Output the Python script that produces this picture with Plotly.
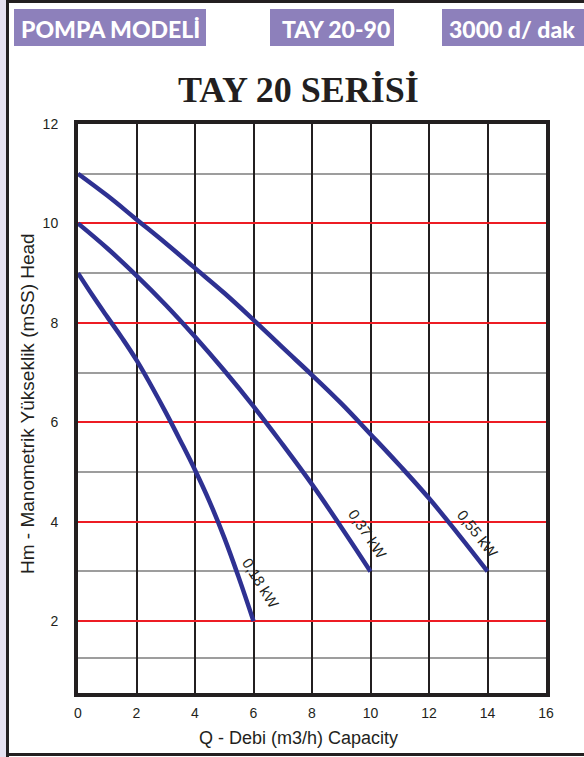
import plotly.graph_objects as go

# ---- data ----
q_018 = [0, 0.5, 1, 1.5, 2, 2.5, 3, 3.5, 4, 4.5, 5, 5.5, 6]
h_018 = [9.0, 8.55, 8.12, 7.7, 7.25, 6.74, 6.2, 5.63, 5.04, 4.4, 3.68, 2.87, 2.0]
q_037 = [0, 1, 2, 3, 4, 5, 6, 7, 8, 9, 10]
h_037 = [10.0, 9.5, 8.95, 8.36, 7.72, 7.04, 6.32, 5.55, 4.75, 3.89, 3.0]
q_055 = [0, 1, 2, 3, 4, 5, 6, 7, 8, 9, 10, 11, 12, 13, 14]
h_055 = [11.0, 10.56, 10.08, 9.6, 9.1, 8.6, 8.06, 7.5, 6.95, 6.38, 5.76, 5.13, 4.47, 3.75, 3.0]

curve_labels = ["0,18 kW", "0,37 kW", "0,55 kW"]
label_q = [6.26, 9.92, 13.69]
label_h = [2.76, 3.75, 3.75]
label_angle = [58, 56, 52]

x_ticks = [0, 2, 4, 6, 8, 10, 12, 14, 16]
y_ticks = [2, 4, 6, 8, 10, 12]
y_minor = [1.257, 3, 5, 7, 9, 11]

header_texts = ["POMPA MODELİ", "TAY 20-90", "3000 d/ dak"]
title_text = "TAY 20 SERİSİ"
x_title = "Q - Debi (m3/h) Capacity"
y_title = "Hm - Manometrik Yükseklik (mSS) Head"

# ---- layout geometry ----
W, H = 584, 757
ML, MR, MT, MB = 78, 38, 124, 64
PW, PH = W - ML - MR, H - MT - MB


def px(x):
    return (x - ML) / PW


def py(y):
    return (H - MB - y) / PH


CURVE = "#2e3192"
PURPLE = "#8d80bb"

fig = go.Figure()
for q, h in [(q_018, h_018), (q_037, h_037), (q_055, h_055)]:
    fig.add_trace(go.Scatter(x=q, y=h, mode="lines",
                             line=dict(color=CURVE, width=4.5, shape="spline", smoothing=1.2),
                             hoverinfo="skip", showlegend=False, cliponaxis=False))

shapes = []
# outer frame
shapes.append(dict(type="rect", xref="paper", yref="paper", x0=px(0), x1=px(6), y0=py(757), y1=py(0),
                   fillcolor="#e6e1f0", line_width=0, layer="below"))
shapes.append(dict(type="line", xref="paper", yref="paper", x0=px(7.5), x1=px(7.5), y0=py(757), y1=py(0),
                   line=dict(color="#231f20", width=3)))
shapes.append(dict(type="line", xref="paper", yref="paper", x0=px(6), x1=px(584), y0=py(1.5), y1=py(1.5),
                   line=dict(color="#231f20", width=3)))
shapes.append(dict(type="line", xref="paper", yref="paper", x0=px(6), x1=px(584), y0=py(754.5), y1=py(754.5),
                   line=dict(color="#231f20", width=3)))
# header boxes
for x0, x1 in [(14, 206), (270, 394), (442, 590)]:
    shapes.append(dict(type="rect", xref="paper", yref="paper", x0=px(x0), x1=px(x1), y0=py(46), y1=py(9),
                       fillcolor=PURPLE, line_width=0))

annotations = []
for t, cx in zip(header_texts, [110, 336, 512]):
    annotations.append(dict(text=t, xref="paper", yref="paper", x=px(cx), y=py(29),
                            xanchor="center", yanchor="middle", showarrow=False,
                            font=dict(family="Lato", size=23, color="white", weight=900)))
annotations.append(dict(text="<b>%s</b>" % title_text, xref="paper", yref="paper", x=px(298), y=py(90),
                        xanchor="center", yanchor="middle", showarrow=False,
                        font=dict(family="Liberation Serif", size=36, color="#231f20")))
annotations.append(dict(text=x_title, xref="paper", yref="paper", x=px(298), y=py(738),
                        xanchor="center", yanchor="middle", showarrow=False,
                        font=dict(family="Liberation Sans", size=18, color="#231f20")))
annotations.append(dict(text=y_title, xref="paper", yref="paper", x=px(27), y=py(404),
                        xanchor="center", yanchor="middle", showarrow=False, textangle=-90,
                        font=dict(family="Liberation Sans", size=19, color="#231f20")))
for t, xq, yh, a in zip(curve_labels, label_q, label_h, label_angle):
    annotations.append(dict(text=t, x=xq, y=yh, xref="x", yref="y", showarrow=False, textangle=a,
                            xanchor="center", yanchor="middle",
                            font=dict(family="Liberation Sans", size=15, color="#231f20")))

fig.update_layout(
    width=W, height=H,
    margin=dict(l=ML, r=MR, t=MT, b=MB, pad=0),
    paper_bgcolor="white", plot_bgcolor="white",
    shapes=shapes, annotations=annotations,
    xaxis=dict(range=[0, 16], tickvals=x_ticks, ticktext=[str(v) for v in x_ticks],
               showgrid=True, gridcolor="#231f20", gridwidth=2, zeroline=False,
               showline=True, linecolor="#231f20", linewidth=4, mirror=True,
               ticks="", ticklabelstandoff=4,
               tickfont=dict(family="Liberation Sans", size=14, color="#231f20")),
    yaxis=dict(range=[0.554, 12], tickvals=y_ticks, ticktext=[str(v) for v in y_ticks],
               showgrid=True, gridcolor="#ed1c24", gridwidth=2, zeroline=False,
               showline=True, linecolor="#231f20", linewidth=4, mirror=True,
               ticks="", ticklabelstandoff=13,
               minor=dict(tickvals=y_minor, showgrid=True, gridcolor="#9d9d9d", gridwidth=2, ticks=""),
               tickfont=dict(family="Liberation Sans", size=14, color="#231f20")),
)

fig.write_html("out.html", config={"displayModeBar": False},
               post_script="document.body.style.margin='0';")
